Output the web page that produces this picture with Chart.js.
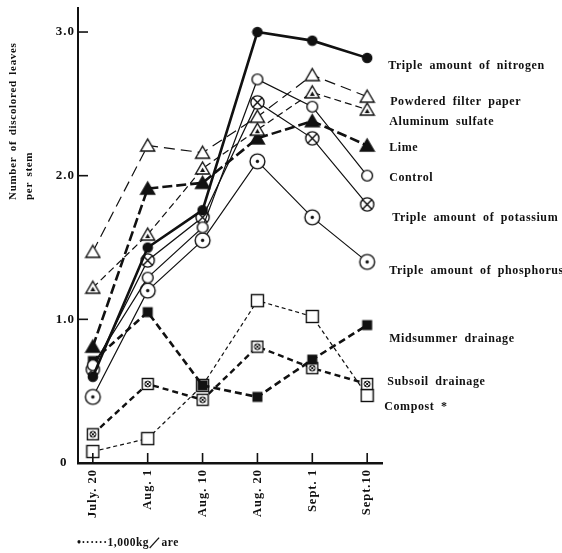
<!DOCTYPE html>
<html>
<head>
<meta charset="utf-8">
<style>
  html, body { margin: 0; padding: 0; background: #fff; }
  canvas { display: block; }
</style>
<script src="https://cdn.jsdelivr.net/npm/chart.js@4.4.1/dist/chart.umd.min.js"></script>
</head>
<body>
<canvas id="chart" width="562" height="553"></canvas>
<script>
// Dates along the bottom axis
const dates = ['July. 20', 'Aug. 1', 'Aug. 10', 'Aug. 20', 'Sept. 1', 'Sept.10'];
const yTicks = [0, 1, 2, 3];

// Number of discolored leaves per stem
const nitrogen    = [0.60, 1.50, 1.76, 3.00, 2.94, 2.82];
const filterPaper = [1.47, 2.21, 2.16, 2.41, 2.70, 2.55];
const aluminum    = [1.22, 1.59, 2.05, 2.32, 2.58, 2.46];
const lime        = [0.81, 1.91, 1.95, 2.26, 2.38, 2.21];
const control     = [0.68, 1.29, 1.64, 2.67, 2.48, 2.00];
const potassium   = [0.65, 1.41, 1.71, 2.51, 2.26, 1.80];
const phosphorus  = [0.46, 1.20, 1.55, 2.10, 1.71, 1.40];
const midsummer   = [0.71, 1.05, 0.54, 0.46, 0.72, 0.96];
const subsoil     = [0.20, 0.55, 0.44, 0.81, 0.66, 0.55];
const compost     = [0.08, 0.17, 0.54, 1.13, 1.02, 0.47];

const seriesNames = [
  'Triple amount of nitrogen', 'Powdered filter paper', 'Aluminum sulfate', 'Lime', 'Control',
  'Triple amount of potassium', 'Triple amount of phosphorus', 'Midsummer drainage',
  'Subsoil drainage', 'Compost *'
];

const ink = '#111';
const serif = '"Liberation Serif", "DejaVu Serif", serif';

// little canvases used as point markers
function marker(size, draw) {
  const c = document.createElement('canvas');
  c.width = c.height = size;
  const g = c.getContext('2d');
  g.translate(size / 2, size / 2);
  g.strokeStyle = ink;
  g.fillStyle = '#fff';
  g.lineWidth = 1.4;
  draw(g);
  return c;
}
function circle(g, r, fill) {
  g.beginPath();
  g.arc(0, 0, r, 0, Math.PI * 2);
  g.fillStyle = fill;
  g.fill();
  g.stroke();
}
function tri(g, fill) {
  g.beginPath();
  g.moveTo(0, -6.5);
  g.lineTo(7, 5.5);
  g.lineTo(-7, 5.5);
  g.closePath();
  g.fillStyle = fill;
  g.fill();
  g.stroke();
}
function cross(g, r) {
  g.beginPath();
  g.moveTo(-r, -r); g.lineTo(r, r);
  g.moveTo(r, -r); g.lineTo(-r, r);
  g.stroke();
}

const mFilledCircle = marker(12, g => circle(g, 4.6, ink));
const mOpenCircle = marker(14, g => circle(g, 5.4, '#fff'));
const mCircledX = marker(17, g => { circle(g, 6.6, '#fff'); cross(g, 4.4); });
const mCircledDot = marker(19, g => { circle(g, 7.4, '#fff'); g.beginPath(); g.arc(0, 0, 1.7, 0, 7); g.fillStyle = ink; g.fill(); });
const mOpenTri = marker(17, g => tri(g, '#fff'));
const mDotTri = marker(17, g => {
  tri(g, '#fff');
  g.beginPath(); g.moveTo(0, -1); g.lineTo(2.5, 3.5); g.lineTo(-2.5, 3.5); g.closePath();
  g.fillStyle = ink; g.fill();
});
const mFilledTri = marker(17, g => tri(g, ink));
const mFilledSquare = marker(13, g => { g.fillStyle = ink; g.fillRect(-5, -5, 10, 10); });
const mSquaredX = marker(14, g => {
  g.fillRect(-5.5, -5.5, 11, 11); g.strokeRect(-5.5, -5.5, 11, 11);
  g.lineWidth = 1; g.beginPath(); g.arc(0, 0, 3, 0, 7); g.stroke(); cross(g, 2.2);
});
const mOpenSquare = marker(15, g => { g.fillRect(-6, -6, 12, 12); g.strokeRect(-6, -6, 12, 12); });

function series(values, pointStyle, width, dash) {
  return {
    data: values.map((v, i) => ({ x: i, y: v })),
    borderColor: ink,
    backgroundColor: ink,
    borderWidth: width,
    borderDash: dash,
    pointStyle: pointStyle,
    pointRadius: 5,
    tension: 0,
    fill: false
  };
}

const datasets = [
  series(nitrogen, mFilledCircle, 2.6, []),
  series(filterPaper, mOpenTri, 1.2, [11, 6]),
  series(aluminum, mDotTri, 1.2, [7, 4]),
  series(lime, mFilledTri, 2.6, [10, 4]),
  series(control, mOpenCircle, 1.2, []),
  series(potassium, mCircledX, 1.2, []),
  series(phosphorus, mCircledDot, 1.2, []),
  series(midsummer, mFilledSquare, 2.6, [7, 4]),
  series(subsoil, mSquaredX, 2.4, [6, 4]),
  series(compost, mOpenSquare, 1.2, [4, 3])
];

// label nudges (pixels) next to the last point of each line
const labelDx = [6, 8, 7, 7, 7, 10, 7, 7, 5, 2];
const labelDy = [8, 5, 12, 2, 2, 13, 9, 14, -2, 11];

// wider letter spacing for the axis tick labels, like the printed figure
const spacing = {
  id: 'spacing',
  beforeDraw(chart) { chart.ctx.letterSpacing = '1px'; }
};

// inner tick marks, right-hand labels, y title and footnote
const extras = {
  id: 'extras',
  afterDraw(chart) {
    const { ctx, chartArea, scales: { x, y } } = chart;
    ctx.save();
    ctx.strokeStyle = ink;
    ctx.lineWidth = 1.6;
    y.ticks.forEach(t => {
      if (t.value === 0) return;
      const py = y.getPixelForValue(t.value);
      ctx.beginPath(); ctx.moveTo(chartArea.left, py); ctx.lineTo(chartArea.left + 10, py); ctx.stroke();
    });
    x.ticks.forEach(t => {
      const px = x.getPixelForValue(t.value);
      ctx.beginPath(); ctx.moveTo(px, chartArea.bottom); ctx.lineTo(px, chartArea.bottom - 10); ctx.stroke();
    });

    ctx.fillStyle = ink;
    ctx.font = 'bold 12px ' + serif;
    ctx.textBaseline = 'middle';
    ctx.textAlign = 'left';
    ctx.letterSpacing = '0.6px';
    ctx.wordSpacing = '3px';
    datasets.forEach((ds, i) => {
      const last = ds.data[ds.data.length - 1];
      const px = x.getPixelForValue(last.x);
      const py = y.getPixelForValue(last.y);
      ctx.fillText(seriesNames[i], px + 15 + labelDx[i], py + labelDy[i]);
    });

    // y axis title, two lines reading upward
    ctx.font = 'bold 11px ' + serif;
    ctx.letterSpacing = '0.7px';
    ctx.wordSpacing = '2px';
    ctx.save();
    ctx.translate(13, 200);
    ctx.rotate(-Math.PI / 2);
    ctx.fillText('Number of discolored leaves', 0, 0);
    ctx.fillText('per stem', 0, 16);
    ctx.restore();

    ctx.font = 'bold 11.5px ' + serif;
    ctx.letterSpacing = '0.5px';
    ctx.fillText('•······1,000kg／are', 77, 543);
    ctx.restore();
  }
};

new Chart(document.getElementById('chart'), {
  type: 'line',
  data: { datasets: datasets },
  options: {
    responsive: false,
    animation: false,
    events: [],
    layout: { padding: { top: 2, right: 180, left: 0, bottom: 0 } },
    plugins: {
      legend: { display: false },
      tooltip: { enabled: false }
    },
    scales: {
      x: {
        type: 'linear',
        min: -0.27,
        max: 5.27,
        afterBuildTicks: (s) => { s.ticks = dates.map((d, i) => ({ value: i })); },
        afterFit: (s) => { s.height = 90; s.paddingLeft = 0; s.paddingRight = 0; },
        grid: { display: false, drawTicks: false },
        border: { display: true, color: ink, width: 2.5 },
        ticks: {
          autoSkip: false,
          minRotation: 90,
          maxRotation: 90,
          padding: 6,
          color: ink,
          font: { family: serif, size: 12.5, weight: 'bold' },
          callback: (v) => dates[v]
        }
      },
      y: {
        min: 0,
        max: 3.17,
        afterBuildTicks: (s) => { s.ticks = yTicks.map(v => ({ value: v })); },
        afterFit: (s) => { s.width = 78; s.paddingTop = 0; s.paddingBottom = 0; },
        grid: { display: false, drawTicks: false },
        border: { display: true, color: ink, width: 2 },
        ticks: {
          padding: 3,
          color: ink,
          font: { family: serif, size: 13, weight: 'bold' },
          callback: (v) => v === 0 ? '0\u2002' : v.toFixed(1)
        }
      }
    }
  },
  plugins: [spacing, extras]
});
</script>
</body>
</html>
